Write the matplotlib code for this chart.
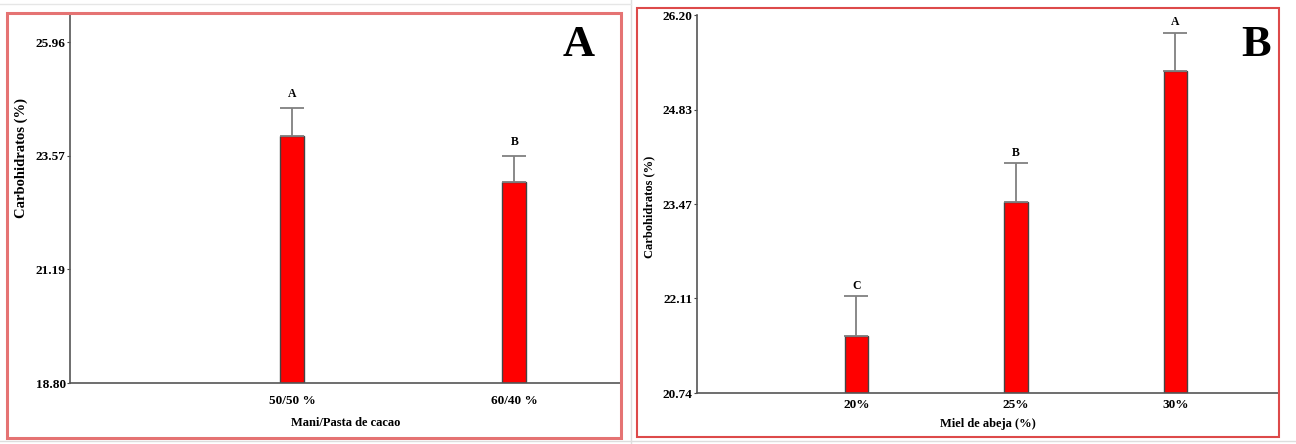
import matplotlib
matplotlib.use('Agg')
import matplotlib.pyplot as plt
from matplotlib.patches import Rectangle
from matplotlib.lines import Line2D

plt.rcParams['font.family'] = ['Liberation Serif', 'DejaVu Serif']
plt.rcParams['font.weight'] = 'bold'

# panel A: Mani/Pasta de cacao
a_cats = ['50/50 %', '60/40 %']
a_vals = [23.99, 23.02]
a_err = [0.58, 0.55]
a_letters = ['A', 'B']
a_ticks = [18.80, 21.19, 23.57, 25.96]

# panel B: Miel de abeja
b_cats = ['20%', '25%', '30%']
b_vals = [21.56, 23.50, 25.39]
b_err = [0.58, 0.56, 0.55]
b_letters = ['C', 'B', 'A']
b_ticks = [20.74, 22.11, 23.47, 24.83, 26.20]

W, H = 1296, 444
fig = plt.figure(figsize=(W / 100, H / 100), dpi=100)


def px(x0, y0, x1, y1):
    # pixel box (top-left origin) -> figure fraction rect
    return [x0 / W, 1 - y1 / H, (x1 - x0) / W, (y1 - y0) / H]


def panel(rect, cats, vals, errs, letters, ticks, ylim, xmax, width, capsize, off,
          xlabel, xpad, lpad, ylabel_pos, ylabel_size):
    ax = fig.add_axes(rect)
    x = list(range(1, len(cats) + 1))
    ax.bar(x, [v - ylim[0] for v in vals], bottom=ylim[0], width=width,
           color='#ff0000', edgecolor='#444444', linewidth=1, zorder=2)
    ax.errorbar(x, vals, yerr=[[0] * len(errs), errs], fmt='none',
                ecolor='#808080', elinewidth=1.3, capsize=capsize, capthick=1.3, zorder=3)
    for xi, v, e, lt in zip(x, vals, errs, letters):
        ax.annotate(lt, (xi, v + e), xytext=(0, off), textcoords='offset points',
                    ha='center', va='center', fontsize=8.5, fontweight='bold')
    ax.set_xlim(0, xmax)
    ax.set_ylim(*ylim)
    ax.set_yticks(ticks)
    ax.set_yticklabels(['%.2f' % t for t in ticks])
    ax.set_xticks(x)
    ax.set_xticklabels(cats)
    ax.tick_params(axis='y', length=2, width=0.8, pad=1, labelsize=9.5, color='#444444')
    ax.tick_params(axis='x', length=0, pad=xpad, labelsize=9.5)
    for s in ['top', 'right']:
        ax.spines[s].set_visible(False)
    for s in ['left', 'bottom']:
        ax.spines[s].set_color('#555555')
        ax.spines[s].set_linewidth(1.2)
    ax.set_xlabel(xlabel, fontsize=9, fontweight='bold', labelpad=lpad)
    fig.text(ylabel_pos[0] / W, 1 - ylabel_pos[1] / H, 'Carbohidratos (%)', rotation=90,
             ha='center', va='center', fontsize=ylabel_size, fontweight='bold')
    return ax


axA = panel(px(70, 13, 621, 383), a_cats, a_vals, a_err, a_letters, a_ticks,
            (18.80, 26.57), 2.48, 0.109, 8.6, 9.9, 'Mani/Pasta de cacao', 9, 6.5,
            (21, 158), 10.5)
axB = panel(px(697, 15, 1279, 393), b_cats, b_vals, b_err, b_letters, b_ticks,
            (20.74, 26.20), 3.65, 0.146, 8.4, 7.6, 'Miel de abeja (%)', 4.5, 4.5,
            (649, 207), 9)

fig.text(579 / W, 1 - 45 / H, 'A', fontsize=32, fontweight='bold', ha='center', va='center')
fig.text(1256 / W, 1 - 45 / H, 'B', fontsize=32, fontweight='bold', ha='center', va='center')

# frames around the panels
fig.add_artist(Line2D([631 / W, 631 / W], [0, 1], color='#dddddd', lw=1))
fig.add_artist(Line2D([0, 1], [1 - 441 / H, 1 - 441 / H], color='#dddddd', lw=1))
fig.add_artist(Line2D([0, 631 / W], [1 - 4 / H, 1 - 4 / H], color='#e6e6e6', lw=1))
fig.add_artist(Rectangle((7 / W, 1 - 438 / H), 614 / W, 425 / H, fill=False,
                         edgecolor='#e57373', lw=2.2))
fig.add_artist(Rectangle((637 / W, 1 - 437 / H), 642 / W, 429 / H, fill=False,
                         edgecolor='#dd4a4a', lw=1.5))

fig.savefig('out.png', dpi=100)
